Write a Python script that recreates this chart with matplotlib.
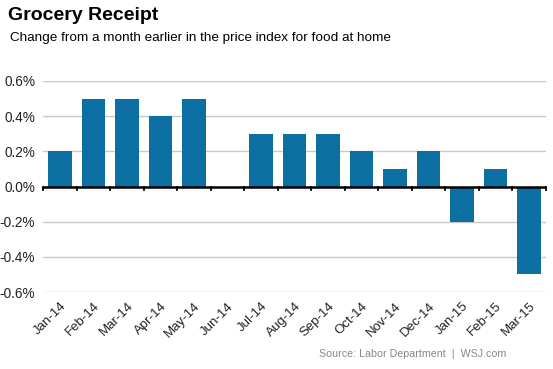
import numpy as np
import matplotlib; matplotlib.use('Agg')
import matplotlib.pyplot as plt

plt.rcParams['font.family'] = ['Liberation Sans', 'DejaVu Sans']

months = ['Jan-14', 'Feb-14', 'Mar-14', 'Apr-14', 'May-14', 'Jun-14', 'Jul-14', 'Aug-14',
          'Sep-14', 'Oct-14', 'Nov-14', 'Dec-14', 'Jan-15', 'Feb-15', 'Mar-15']
changes = [0.2, 0.5, 0.5, 0.4, 0.5, 0.0, 0.3, 0.3, 0.3, 0.2, 0.1, 0.2, -0.2, 0.1, -0.5]
yticks = [-0.6, -0.4, -0.2, 0.0, 0.2, 0.4, 0.6]

BAR_COLOR = '#0b6fa1'

fig = plt.figure(figsize=(5.53, 3.69), dpi=100)
ax = fig.add_axes([43 / 553, 1 - 292 / 369, 503 / 553, 211 / 369])

x = np.arange(len(months))
ax.bar(x, changes, width=0.7, color=BAR_COLOR, zorder=2)

ax.set_xlim(-0.5, len(months) - 0.5)
ax.set_ylim(-0.6, 0.6)
ax.set_yticks(yticks)
ax.set_yticklabels([f'{v:.1f}%' for v in yticks], fontsize=9.8, color='#222222')
ax.tick_params(axis='y', length=0, pad=5.5)
for v in yticks:
    if v != 0:
        ax.axhline(v, color='#c8c8c8', linewidth=1.0, zorder=1)
ax.axhline(0, color='black', linewidth=1.8, zorder=3)
# category boundary ticks on the zero line
for b in np.arange(-0.5, len(months), 1.0):
    ax.plot([b, b], [0, -0.018], color='black', linewidth=1.3, zorder=3, clip_on=False)

ax.set_xticks(x)
ax.set_xticklabels(months, rotation=45, ha='right', rotation_mode='anchor',
                   fontsize=9.5, color='#222222')
ax.tick_params(axis='x', length=0, pad=6)

for s in ax.spines.values():
    s.set_visible(False)

fig.text(8 / 553, 1 - 7 / 369, 'Grocery Receipt', fontsize=14, fontweight='bold',
         va='top', ha='left', color='black')
fig.text(10 / 553, 1 - 32 / 369, 'Change from a month earlier in the price index for food at home',
         fontsize=9.7, va='top', ha='left', color='black')
fig.text(506 / 553, 1 - 354 / 369, 'Source: Labor Department  |  WSJ.com',
         fontsize=7.7, va='center', ha='right', color='#888888')

plt.savefig('out.png', dpi=100)
plt.close()
